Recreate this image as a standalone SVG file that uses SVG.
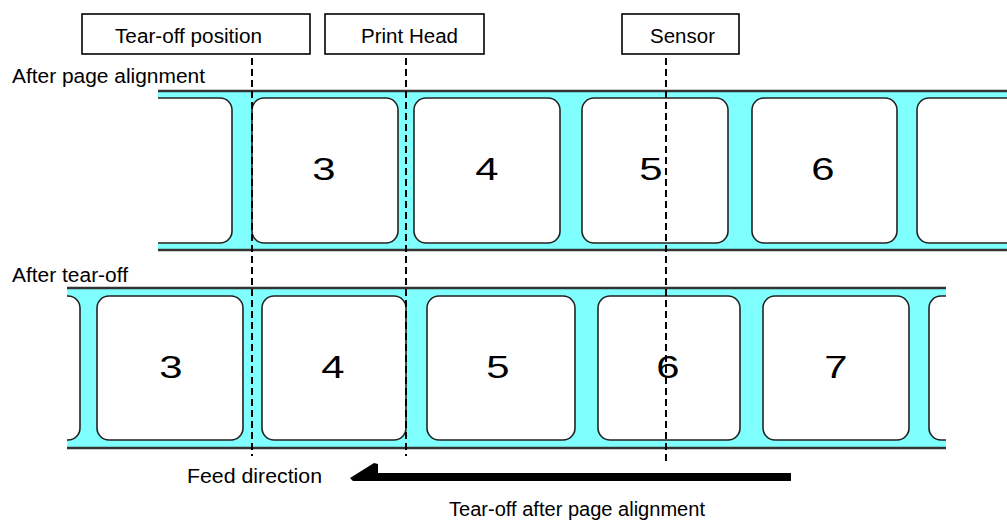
<svg xmlns="http://www.w3.org/2000/svg" width="1007" height="521" viewBox="0 0 1007 521">
<style>
.t{font-family:"Liberation Sans",Arial,sans-serif;font-size:20px;fill:#000}
.d{font-family:"Liberation Sans",Arial,sans-serif;font-size:31px;fill:#000;text-anchor:middle}
.box{fill:#fff;stroke:#000;stroke-width:1.6}
.band{fill:#80ffff}
.edge{stroke:#333;stroke-width:2.5;fill:none}
.lbl{fill:#fff;stroke:#222;stroke-width:1.6}
.dash{stroke:#000;stroke-width:2;stroke-dasharray:7 4;fill:none}
</style>
<defs>
<clipPath id="c1"><rect x="158" y="85" width="849" height="172"/></clipPath>
<clipPath id="c2"><rect x="67" y="282" width="879" height="172"/></clipPath>
</defs>
<rect width="1007" height="521" fill="#fff"/>

<g id="strip-top" clip-path="url(#c1)">
<rect class="band" x="158" y="91" width="849" height="159"/>
<rect class="lbl" x="60" y="98" width="172" height="145" rx="12"/>
<rect class="lbl" x="252" y="98" width="146" height="145" rx="12"/>
<rect class="lbl" x="414" y="98" width="146" height="145" rx="12"/>
<rect class="lbl" x="582" y="98" width="146" height="145" rx="12"/>
<rect class="lbl" x="752" y="98" width="145" height="145" rx="12"/>
<rect class="lbl" x="917" y="98" width="200" height="145" rx="12"/>
<line class="edge" x1="158" y1="91" x2="1007" y2="91"/>
<line class="edge" x1="158" y1="250" x2="1007" y2="250"/>
<text class="d" transform="translate(324,180) scale(1.35,1)">3</text>
<text class="d" transform="translate(487,180) scale(1.35,1)">4</text>
<text class="d" transform="translate(651,180) scale(1.35,1)">5</text>
<text class="d" transform="translate(823,180) scale(1.35,1)">6</text>
</g>

<g id="strip-bottom" clip-path="url(#c2)">
<rect class="band" x="67" y="288" width="879" height="160"/>
<rect class="lbl" x="-70" y="296" width="150" height="144" rx="12"/>
<rect class="lbl" x="97" y="296" width="146" height="144" rx="12"/>
<rect class="lbl" x="262" y="296" width="144" height="144" rx="12"/>
<rect class="lbl" x="427" y="296" width="148" height="144" rx="12"/>
<rect class="lbl" x="598" y="296" width="142" height="144" rx="12"/>
<rect class="lbl" x="763" y="296" width="146" height="144" rx="12"/>
<rect class="lbl" x="929" y="296" width="150" height="144" rx="12"/>
<line class="edge" x1="67" y1="288" x2="946" y2="288"/>
<line class="edge" x1="67" y1="448" x2="946" y2="448"/>
<text class="d" transform="translate(171,378) scale(1.35,1)">3</text>
<text class="d" transform="translate(333,378) scale(1.35,1)">4</text>
<text class="d" transform="translate(498,378) scale(1.35,1)">5</text>
<text class="d" transform="translate(668,378) scale(1.35,1)">6</text>
<text class="d" transform="translate(836,378) scale(1.35,1)">7</text>
</g>

<g id="connectors">
<line class="dash" x1="252" y1="58" x2="252" y2="456"/>
<line class="dash" x1="406" y1="58" x2="406" y2="456"/>
<line class="dash" x1="666" y1="58" x2="666" y2="462"/>
<path d="M350,478 L374,463 L378,464 L378,473 L791,473 L791,481 L353,481 Z" fill="#000"/>
</g>

<g id="box-tearoff">
<rect class="box" x="82" y="14" width="228" height="40"/>
<text class="t" x="115" y="43" textLength="147" lengthAdjust="spacingAndGlyphs">Tear-off position</text>
</g>
<g id="box-printhead">
<rect class="box" x="325" y="14" width="159" height="40"/>
<text class="t" x="361" y="43" textLength="97" lengthAdjust="spacingAndGlyphs">Print Head</text>
</g>
<g id="box-sensor">
<rect class="box" x="622" y="14" width="117" height="40"/>
<text class="t" x="650" y="43" textLength="65" lengthAdjust="spacingAndGlyphs">Sensor</text>
</g>

<g id="labels">
<text class="t" x="12" y="83" textLength="193" lengthAdjust="spacingAndGlyphs">After page alignment</text>
<text class="t" x="12" y="282" textLength="116" lengthAdjust="spacingAndGlyphs">After tear-off</text>
<text class="t" x="187" y="483" textLength="135" lengthAdjust="spacingAndGlyphs">Feed direction</text>
<text class="t" x="449" y="516" textLength="256" lengthAdjust="spacingAndGlyphs">Tear-off after page alignment</text>
</g>
</svg>
